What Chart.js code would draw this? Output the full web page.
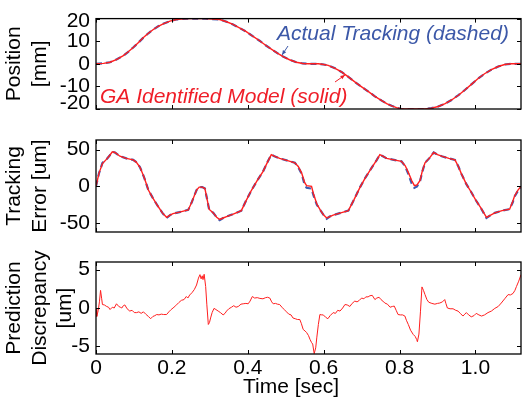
<!DOCTYPE html>
<html>
<head>
<meta charset="utf-8">
<title>GA identified model vs actual tracking</title>
<script src="https://cdn.jsdelivr.net/npm/chart.js@4.4.1/dist/chart.umd.min.js"></script>
<style>
  html, body { margin: 0; padding: 0; background: #fff; }
  #wrap { position: relative; width: 522px; height: 398px; overflow: hidden; background: #fff; }
  #wrap canvas { position: absolute; left: 0; top: 0; }
</style>
</head>
<body>
<div id="wrap">
  <canvas id="positionChart" width="522" height="398"></canvas>
  <canvas id="errorChart" width="522" height="398"></canvas>
  <canvas id="discrepancyChart" width="522" height="398"></canvas>
</div>
<script>
// ---- Data ----
const X_MAX = 1.12;
const xTickValues = [0, 0.2, 0.4, 0.6, 0.8, 1.0];
const xTickLabels = ['0', '0.2', '0.4', '0.6', '0.8', '1.0'];

const positionTicks = [-20, -10, 0, 10, 20];
const errorTicks = [-50, 0, 50];
const discrepancyTicks = [-5, 0, 5];

// Position [mm]
const positionTime = [0, 0.02, 0.037, 0.055, 0.072, 0.085, 0.098, 0.112, 0.125, 0.138, 0.151, 0.164, 0.177, 0.195,
  0.212, 0.23, 0.247, 0.267, 0.287, 0.307, 0.326, 0.344, 0.361, 0.378, 0.396, 0.414, 0.432, 0.447, 0.462, 0.478,
  0.493, 0.51, 0.528, 0.545, 0.56, 0.586, 0.6, 0.612, 0.63, 0.647, 0.665, 0.682, 0.7, 0.718, 0.735, 0.753, 0.766,
  0.779, 0.792, 0.805, 0.835, 0.867, 0.884, 0.902, 0.92, 0.937, 0.955, 0.972, 0.99, 1.007, 1.024, 1.042, 1.06,
  1.077, 1.095, 1.12];
const positionActual = [0, 0.2, 0.7, 2.0, 3.6, 5.3, 7.2, 9.4, 11.6, 13.5, 15.2, 16.6, 17.7, 18.9,
  19.6, 19.9, 20, 20, 20, 19.8, 19.6, 18.6, 17.4, 15.9, 14.2, 12.1, 10.1, 8.2, 6.5, 4.7,
  3.2, 1.8, 0.7, 0.15, 0, 0, -0.3, -0.7, -2.0, -3.6, -5.8, -8.0, -10.2, -12.3, -14.4, -16.3, -17.6,
  -18.6, -19.4, -20, -20, -20, -19.6, -18.9, -17.6, -16.0, -13.9, -11.6, -9.0, -6.5, -4.4, -2.6, -1.2,
  -0.3, 0, 0];
const positionModel = [0, 0.2, 0.7, 2.0, 3.6, 5.3, 7.2, 9.4, 11.6, 13.5, 15.2, 16.6, 17.7, 18.9,
  19.6, 19.9, 20, 20, 20, 19.8, 19.6, 18.6, 17.4, 15.9, 14.2, 12.1, 10.1, 8.2, 6.5, 4.7,
  3.2, 1.8, 0.7, 0.15, 0, 0, -0.3, -0.7, -2.0, -3.6, -5.8, -8.0, -10.2, -12.3, -14.4, -16.3, -17.6,
  -18.6, -19.4, -20, -20, -20, -19.6, -18.9, -17.6, -16.0, -13.9, -11.6, -9.0, -6.5, -4.4, -2.6, -1.2,
  -0.3, 0, 0];

// Tracking error [um]
const errorTime = [0, 0.008, 0.017, 0.028, 0.036, 0.043, 0.05, 0.063, 0.08, 0.098, 0.106, 0.116, 0.127, 0.138,
  0.15, 0.162, 0.175, 0.186, 0.195, 0.203, 0.22, 0.243, 0.252, 0.265, 0.272, 0.28, 0.287, 0.293, 0.298, 0.309,
  0.318, 0.326, 0.335, 0.344, 0.36, 0.383, 0.395, 0.41, 0.425, 0.44, 0.452, 0.462, 0.47, 0.484, 0.505, 0.524,
  0.533, 0.542, 0.55, 0.555, 0.568, 0.573, 0.582, 0.592, 0.6, 0.608, 0.616, 0.625, 0.645, 0.665, 0.68, 0.696,
  0.71, 0.725, 0.74, 0.748, 0.756, 0.766, 0.785, 0.805, 0.815, 0.823, 0.832, 0.839, 0.846, 0.854, 0.86, 0.867,
  0.878, 0.89, 0.9, 0.911, 0.93, 0.946, 0.955, 0.963, 0.976, 0.989, 1.0, 1.015, 1.029, 1.04, 1.051, 1.07,
  1.09, 1.098, 1.103, 1.112, 1.12];
const errorActual = [0, 18, 32, 37, 42, 47, 46, 41, 38, 36, 33, 26, 12, -5,
  -16, -26, -36, -43, -39, -37, -35, -32, -22, -5, -1, -1, -3, -18, -31, -36,
  -42, -46, -43, -41, -38, -33, -20, -5, 8, 20, 33, 43, 41, 38, 35, 32,
  26, 17, 2, -2, -3, -12, -25, -33, -39, -44, -41, -39, -36, -33, -18, -1,
  12, 24, 36, 43, 41, 38, 36, 34, 27, 17, 4, -2, 0, 7, 20, 32,
  38, 46, 43, 41, 38, 36, 27, 17, 3, -8, -18, -30, -43, -39, -36, -33,
  -31, -22, -14, -6, -1];
const errorModel = [0, 18, 31, 37, 42, 47, 46, 41, 38, 36, 33, 26, 12, -5,
  -16, -26, -36, -42, -39, -37, -35, -32, -22, -5, -1, -1, -3, -18, -31, -36,
  -42, -45, -43, -41, -38, -33, -20, -5, 8, 20, 33, 43, 41, 38, 35, 32,
  27, 18, 5, 1, 0, -10, -24, -33, -39, -43, -41, -39, -36, -33, -18, -1,
  12, 24, 36, 43, 41, 38, 36, 34, 28, 19, 8, 1, 2, 8, 21, 32,
  38, 46, 43, 41, 38, 36, 27, 17, 3, -8, -18, -30, -42, -39, -36, -33,
  -31, -21, -13, -5, 0];

// Prediction discrepancy [um]
const discrepancyTime = [0, 0.002, 0.006, 0.009, 0.012, 0.015, 0.017, 0.022, 0.028, 0.033, 0.037, 0.043, 0.048,
  0.054, 0.06, 0.064, 0.068, 0.072, 0.076, 0.082, 0.089, 0.095, 0.101, 0.107, 0.113, 0.119, 0.125, 0.131, 0.138,
  0.144, 0.15, 0.155, 0.16, 0.166, 0.172, 0.178, 0.186, 0.192, 0.198, 0.203, 0.21, 0.218, 0.225, 0.232, 0.238,
  0.242, 0.247, 0.253, 0.259, 0.265, 0.27, 0.274, 0.277, 0.28, 0.282, 0.285, 0.289, 0.292, 0.296, 0.299, 0.302,
  0.306, 0.311, 0.316, 0.322, 0.328, 0.335, 0.34, 0.344, 0.35, 0.357, 0.363, 0.369, 0.375, 0.382, 0.388, 0.395,
  0.401, 0.406, 0.412, 0.418, 0.425, 0.432, 0.44, 0.447, 0.452, 0.458, 0.463, 0.467, 0.473, 0.478, 0.484, 0.49,
  0.496, 0.502, 0.508, 0.514, 0.519, 0.525, 0.531, 0.537, 0.541, 0.546, 0.551, 0.555, 0.56, 0.564, 0.568, 0.571,
  0.575, 0.579, 0.582, 0.586, 0.59, 0.595, 0.599, 0.605, 0.611, 0.617, 0.625, 0.631, 0.637, 0.643, 0.65, 0.656,
  0.662, 0.669, 0.675, 0.682, 0.688, 0.694, 0.7, 0.706, 0.711, 0.717, 0.722, 0.728, 0.735, 0.74, 0.746, 0.751,
  0.756, 0.761, 0.768, 0.775, 0.781, 0.786, 0.791, 0.796, 0.802, 0.808, 0.814, 0.818, 0.823, 0.829, 0.836, 0.841,
  0.845, 0.847, 0.851, 0.855, 0.859, 0.863, 0.867, 0.872, 0.877, 0.885, 0.893, 0.9, 0.906, 0.913, 0.919, 0.922,
  0.926, 0.933, 0.941, 0.948, 0.954, 0.96, 0.967, 0.972, 0.976, 0.982, 0.989, 0.996, 1.002, 1.009, 1.016, 1.024,
  1.033, 1.042, 1.051, 1.06, 1.068, 1.077, 1.086, 1.092, 1.099, 1.104, 1.108, 1.114, 1.12];
const discrepancyValues = [0, -1.1, -0.3, 0.8, 2.3, 1.2, 0.45, 0.4, 0.2, 0.1, -0.2, 0.1, 0,
  0.55, 0.2, 0.1, 0, 0.3, 0.4, -0.1, -0.4, -0.3, -0.6, -0.6, -0.5, -0.7, -0.5, -0.8, -1.1,
  -1.4, -1.1, -1.0, -0.85, -0.9, -0.8, -0.85, -0.85, -0.5, -0.2, 0, 0.3, 0.7, 1.0, 1.1, 1.5,
  1.3, 1.7, 2.0, 2.4, 3.0, 3.9, 4.35, 3.8, 4.2, 3.7, 4.4, 2.8, 0.5, -2.15, -1.9, -1.3,
  -0.6, -0.05, -0.2, -0.4, -0.6, -0.9, -0.7, -0.4, -0.1, 0.1, 0.3, 0.1, 0.2, 0.5, 0.55, 0.6,
  0.55, 0.9, 1.5, 1.3, 1.35, 1.25, 1.2, 1.35, 1.4, 1.3, 0.8, 0.55, 0.6, 0.5, 0.45, 0.1,
  -0.2, -0.5, -0.8, -0.9, -1.3, -1.4, -1.5, -1.5, -2.0, -2.8, -3.0, -3.2, -3.6, -4.1, -4.5, -4.7,
  -5.95, -5.2, -3.8, -2.15, -0.85, -0.9, -0.9, -1.2, -1.4, -1.0, -0.6, -0.7, -0.3, -0.4, 0, 0.45,
  0.4, 0.2, 0.6, 0.9, 0.8, 1.0, 1.3, 1.2, 1.45, 1.45, 1.6, 1.65, 1.1, 1.3, 1.4, 1.1,
  0.9, 0.65, 0.5, 0.1, 0.2, 0.25, -0.3, -0.85, -0.9, -0.9, -1.05, -1.6, -2.15, -2.9, -3.45, -3.7,
  -4.1, -4.4, -3.4, -0.5, 2.75, 2.3, 1.75, 1.1, 0.75, 0.6, 0.5, 0.6, 0.65, 0.8, 1.1, 0.6,
  0, -0.1, -0.1, -0.3, -0.4, -0.7, -1.05, -0.8, -0.6, -0.9, -1.15, -1.0, -0.7, -0.9, -1.05, -0.9,
  -0.6, -0.4, -0.05, 0.2, 0.65, 1.2, 1.75, 1.7, 1.9, 2.3, 2.8, 3.5, 4.35];

// ---- Styling ----
const FONT = '"Liberation Sans", Arial, Helvetica, sans-serif';
const RED = '#ff1f1f';
const BLUE = '#3b5bb2';
const RED_TEXT = '#ef1d27';
const BLUE_TEXT = '#3c58a8';

Chart.defaults.font.family = FONT;
Chart.defaults.font.size = 21;
Chart.defaults.color = '#000';

function toPoints(xs, ys) {
    return xs.map((x, i) => ({ x: x, y: ys[i] }));
}

// Box around the plot area with inward tick marks on all four sides
const framePlugin = {
    id: 'frame',
    afterDatasetsDraw(chart) {
        const { ctx, chartArea: a, scales } = chart;
        const tick = 4;
        ctx.save();
        ctx.strokeStyle = '#000';
        ctx.lineWidth = 1.3;
        ctx.strokeRect(a.left, a.top, a.right - a.left, a.bottom - a.top);
        ctx.lineWidth = 1;
        ctx.beginPath();
        scales.x.ticks.forEach(t => {
            const px = Math.round(scales.x.getPixelForValue(t.value)) + 0.5;
            ctx.moveTo(px, a.bottom); ctx.lineTo(px, a.bottom - tick);
            ctx.moveTo(px, a.top); ctx.lineTo(px, a.top + tick);
        });
        scales.y.ticks.forEach(t => {
            const py = Math.round(scales.y.getPixelForValue(t.value)) + 0.5;
            ctx.moveTo(a.left, py); ctx.lineTo(a.left + tick, py);
            ctx.moveTo(a.right, py); ctx.lineTo(a.right - tick, py);
        });
        ctx.stroke();
        ctx.restore();
    }
};

// MATLAB pulls the outermost y labels of the top panel inside the box
const edgeLabelPlugin = {
    id: 'edgeLabels',
    beforeDraw(chart, args, opts) {
        if (!opts || !opts.shift) return;
        const items = chart.scales.y.getLabelItems();
        if (!items.length) return;
        items[0].options.translation[1] += opts.shift[0];
        items[items.length - 1].options.translation[1] += opts.shift[1];
    }
};

function drawArrow(ctx, x1, y1, x2, y2, color) {
    const ang = Math.atan2(y2 - y1, x2 - x1);
    const len = 5;
    ctx.strokeStyle = color;
    ctx.fillStyle = color;
    ctx.lineWidth = 1;
    ctx.beginPath();
    ctx.moveTo(x1, y1);
    ctx.lineTo(x2, y2);
    ctx.stroke();
    ctx.beginPath();
    ctx.moveTo(x2, y2);
    ctx.lineTo(x2 - len * Math.cos(ang - 0.4), y2 - len * Math.sin(ang - 0.4));
    ctx.lineTo(x2 - len * Math.cos(ang + 0.4), y2 - len * Math.sin(ang + 0.4));
    ctx.closePath();
    ctx.fill();
}

// Text labels + arrows in the position panel
const annotationPlugin = {
    id: 'annotations',
    afterDraw(chart) {
        const ctx = chart.ctx;
        ctx.save();
        ctx.font = 'italic 21px ' + FONT;
        ctx.textBaseline = 'alphabetic';
        ctx.textAlign = 'left';
        ctx.fillStyle = BLUE_TEXT;
        ctx.fillText('Actual Tracking (dashed)', 277, 40);
        ctx.fillStyle = RED_TEXT;
        ctx.fillText('GA Identified Model (solid)', 100, 103);
        drawArrow(ctx, 288, 46, 282, 55, BLUE_TEXT);
        drawArrow(ctx, 335, 82, 345, 75, RED_TEXT);
        ctx.restore();
    }
};

// x axis title of the bottom panel
const xTitlePlugin = {
    id: 'xTitle',
    afterDraw(chart) {
        const ctx = chart.ctx;
        ctx.save();
        ctx.font = '21px ' + FONT;
        ctx.fillStyle = '#000';
        ctx.textAlign = 'center';
        ctx.textBaseline = 'middle';
        ctx.fillText('Time [sec]', 291, 387);
        ctx.restore();
    }
};

function xScale(showLabels) {
    return {
        type: 'linear',
        min: 0,
        max: X_MAX,
        afterBuildTicks: s => { s.ticks = xTickValues.map(v => ({ value: v })); },
        afterFit: s => { s.height = showLabels ? 44 : 0; },
        grid: { display: false, drawTicks: false },
        border: { display: false },
        ticks: {
            display: showLabels,
            padding: 2,
            maxRotation: 0,
            autoSkip: false,
            color: '#000',
            callback: (v, i) => xTickLabels[i]
        }
    };
}

function yScale(min, max, tickValues, titleLines) {
    return {
        min: min,
        max: max,
        afterBuildTicks: s => { s.ticks = tickValues.map(v => ({ value: v })); },
        afterFit: s => { s.width = 96; },
        grid: { display: false, drawTicks: false },
        border: { display: false },
        ticks: { padding: 6, autoSkip: false, color: '#000', callback: v => String(v) },
        title: {
            display: true,
            text: titleLines,
            color: '#000',
            font: { size: 21, lineHeight: 1.2 },
            padding: { top: 2, bottom: 0 }
        }
    };
}

function baseOptions(padTop, padBottom, scales) {
    return {
        responsive: false,
        animation: false,
        events: [],
        layout: { padding: { top: padTop, bottom: padBottom, left: 0, right: 1 } },
        plugins: { legend: { display: false }, tooltip: { enabled: false } },
        scales: scales
    };
}

document.addEventListener('DOMContentLoaded', function() {
    // Position panel
    const positionOptions = baseOptions(17, 289, {
        x: xScale(false),
        y: yScale(-20, 20, positionTicks, ['Position', '[mm]'])
    });
    positionOptions.plugins.edgeLabels = { shift: [-6, 3] };

    new Chart(document.getElementById('positionChart'), {
        type: 'line',
        data: {
            datasets: [{
                label: 'GA Identified Model',
                data: toPoints(positionTime, positionModel),
                borderColor: RED, borderWidth: 1.4, pointRadius: 0, tension: 0
            }, {
                label: 'Actual Tracking',
                data: toPoints(positionTime, positionActual),
                borderColor: BLUE, borderWidth: 2.2, borderDash: [6, 4], pointRadius: 0, tension: 0
            }]
        },
        options: positionOptions,
        plugins: [framePlugin, edgeLabelPlugin, annotationPlugin]
    });

    // Tracking error panel
    new Chart(document.getElementById('errorChart'), {
        type: 'line',
        data: {
            datasets: [{
                label: 'GA Identified Model',
                data: toPoints(errorTime, errorModel),
                borderColor: RED, borderWidth: 1.4, pointRadius: 0, tension: 0
            }, {
                label: 'Actual Tracking',
                data: toPoints(errorTime, errorActual),
                borderColor: BLUE, borderWidth: 2.2, borderDash: [6, 4], pointRadius: 0, tension: 0
            }]
        },
        options: baseOptions(140, 166, {
            x: xScale(false),
            y: yScale(-62, 63, errorTicks, ['Tracking', 'Error [um]'])
        }),
        plugins: [framePlugin]
    });

    // Prediction discrepancy panel
    new Chart(document.getElementById('discrepancyChart'), {
        type: 'line',
        data: {
            datasets: [{
                label: 'Prediction Discrepancy',
                data: toPoints(discrepancyTime, discrepancyValues),
                borderColor: RED, borderWidth: 1, pointRadius: 0, tension: 0
            }]
        },
        options: baseOptions(262, 0, {
            x: xScale(true),
            y: yScale(-6, 6, discrepancyTicks, ['Prediction', 'Discrepancy', '[um]'])
        }),
        plugins: [framePlugin, xTitlePlugin]
    });
});
</script>
</body>
</html>
